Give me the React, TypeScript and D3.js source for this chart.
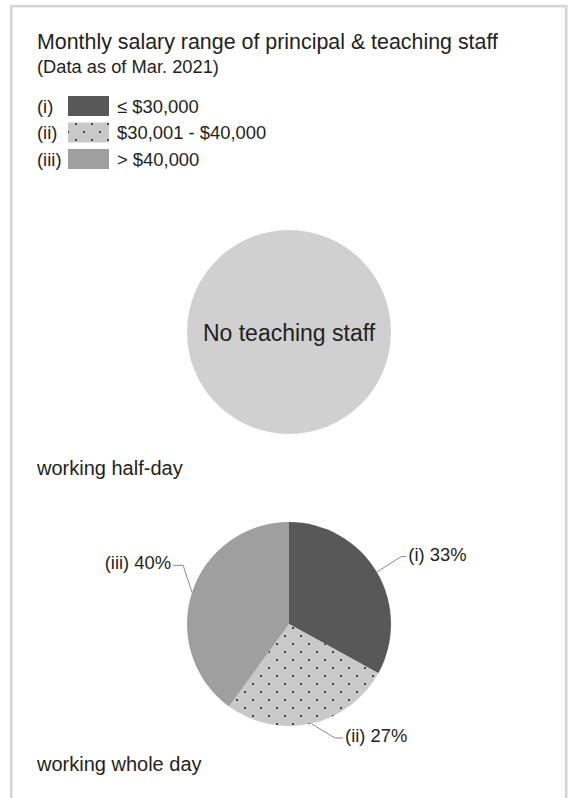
import React from "react";
import * as d3 from "d3";

// ---- data ----
const categoryCodes = ["(i)", "(ii)", "(iii)"];
const rangeLabels = ["≤ $30,000", "$30,001 - $40,000", "> $40,000"];
const wholeDayShares = [33, 27, 40];
const halfDayShares: number[] = [];
const sectionLabels = ["working half-day", "working whole day"];
const titleText = "Monthly salary range of principal & teaching staff";
const subtitleText = "(Data as of Mar. 2021)";
const emptyText = "No teaching staff";

// ---- layout / style ----
const W = 573;
const H = 798;
const FONT = "'Liberation Sans', Arial, Helvetica, sans-serif";
const TEXT = "#231f20";
const fills = ["#585858", "url(#dots)", "#9f9f9f"];
const R = 102;
const cx = 289;
const halfCy = 332;
const wholeCy = 624;
// leader elbow: angle (deg clockwise from 12 o'clock), radius, horizontal tail length
const leaderLayout = [
  { angle: 59, radius: 131, tail: 5 },
  { angle: 158, radius: 123, tail: 8 },
  { angle: 299, radius: 121, tail: 10 },
];

export default function App() {
  const pie = d3
    .pie<number>()
    .sort(null)
    .value((d) => d)
    .startAngle(0)
    .endAngle(2 * Math.PI);
  const arcs = pie(wholeDayShares);
  const arc = d3.arc<d3.PieArcDatum<number>>().innerRadius(0).outerRadius(R);
  const total = d3.sum(wholeDayShares);

  const legendY = d3
    .scalePoint<string>()
    .domain(categoryCodes)
    .range([106, 159]);

  const polar = (deg: number, r: number): [number, number] => {
    const a = (deg * Math.PI) / 180;
    return [r * Math.sin(a), -r * Math.cos(a)];
  };

  return (
    <svg
      width={W}
      height={H}
      style={{ position: "absolute", left: 0, top: 0, display: "block" }}
      fontFamily={FONT}
    >
      <defs>
        <pattern id="dots" width={16} height={16} patternUnits="userSpaceOnUse">
          <rect width={16} height={16} fill="#c9c9c9" />
          <rect x={3.2} y={3.2} width={1.7} height={1.7} fill="#111" />
          <rect x={11.2} y={11.2} width={1.7} height={1.7} fill="#111" />
        </pattern>
      </defs>
      <rect x={0} y={0} width={W} height={H} fill="#fff" />
      <rect
        x={11.2}
        y={6.1}
        width={555}
        height={H + 20}
        fill="none"
        stroke="#d5d5d5"
        strokeWidth={2.6}
      />

      <text x={37} y={49} fontSize={21.4} fill={TEXT}>
        {titleText}
      </text>
      <text x={37} y={73} fontSize={18.3} fill={TEXT}>
        {subtitleText}
      </text>

      {categoryCodes.map((c, i) => {
        const y = legendY(c)!;
        return (
          <g key={c}>
            <text x={37} y={y + 6.5} fontSize={18.4} fill={TEXT}>
              {c}
            </text>
            <rect x={68} y={y - 10} width={41} height={20} fill={fills[i]} />
            <text x={117} y={y + 6.5} fontSize={18.4} fill={TEXT}>
              {rangeLabels[i]}
            </text>
          </g>
        );
      })}

      {/* working half-day: no data */}
      <g transform={`translate(${cx},${halfCy})`}>
        <circle r={R} fill="#d0d0d0" />
        {halfDayShares.length === 0 && (
          <text textAnchor="middle" y={9} fontSize={23} fill={TEXT}>
            {emptyText}
          </text>
        )}
      </g>
      <text x={37} y={475} fontSize={20} fill={TEXT}>
        {sectionLabels[0]}
      </text>

      {/* working whole day */}
      <g transform={`translate(${cx},${wholeCy})`}>
        {arcs.map((a, i) => (
          <path key={i} d={arc(a) || ""} fill={fills[i]} />
        ))}
        {arcs.map((a, i) => {
          const mid = (((a.startAngle + a.endAngle) / 2) * 180) / Math.PI;
          const [sx, sy] = polar(mid, R);
          const L = leaderLayout[i];
          const [ex, ey] = polar(L.angle, L.radius);
          const right = ex > 0;
          const tx = right ? ex + L.tail : ex - L.tail;
          const pct = Math.round((a.data / total) * 100);
          return (
            <g key={"l" + i}>
              <polyline
                points={`${sx},${sy} ${ex},${ey} ${tx},${ey}`}
                fill="none"
                stroke="#8a8a8a"
                strokeWidth={1}
              />
              <text
                x={right ? tx + 2 : tx - 2}
                y={ey + 4}
                textAnchor={right ? "start" : "end"}
                fontSize={18.4}
                fill={TEXT}
              >
                {`${categoryCodes[i]} ${pct}%`}
              </text>
            </g>
          );
        })}
      </g>
      <text x={37} y={771} fontSize={20} fill={TEXT}>
        {sectionLabels[1]}
      </text>
    </svg>
  );
}
